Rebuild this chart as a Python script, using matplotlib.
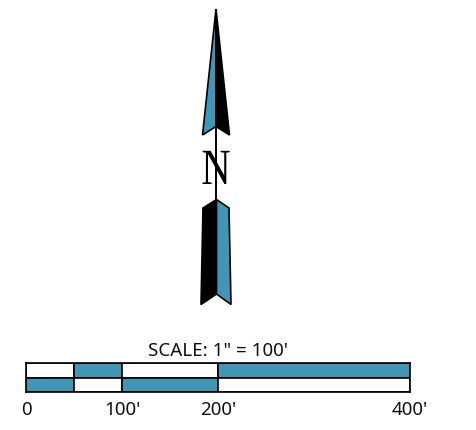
import matplotlib
matplotlib.use('Agg')
import matplotlib.pyplot as plt
from matplotlib.patches import Polygon
from matplotlib.patheffects import AbstractPathEffect
from matplotlib.transforms import Affine2D

W, H = 477, 431
BLUE = '#4096b4'

# north arrow outline, in picture pixels
upper_left = [(216, 10), (202.5, 136), (216, 127.5)]
upper_right = [(216, 10), (229.5, 136), (216, 127.5)]
lower_left = [(216.5, 200.5), (203, 209), (201, 305.5), (216.5, 295)]
lower_right = [(216.5, 200.5), (229, 209), (231, 305.5), (216.5, 295)]
shaft_x = [216, 216]
shaft_y = [127, 200]

# scale bar, in feet
seg_left = [0, 50, 100, 200]
seg_width = [50, 50, 100, 200]
top_colors = ['white', BLUE, 'white', BLUE]
bottom_colors = [BLUE, 'white', BLUE, 'white']
tick_vals = [0, 100, 200, 400]
tick_labels = ['0', "100'", "200'", "400'"]


class SqueezeX(AbstractPathEffect):
    # the N in the reference is narrower than any installed serif
    def __init__(self, cx, factor):
        super().__init__()
        self.cx = cx
        self.factor = factor

    def draw_path(self, renderer, gc, tpath, affine, rgbFace=None):
        squeeze = Affine2D().translate(-self.cx, 0).scale(self.factor, 1).translate(self.cx, 0)
        renderer.draw_path(gc, tpath, affine + squeeze, rgbFace)


plt.rcParams['font.family'] = ['Noto Sans', 'DejaVu Sans']

fig = plt.figure(figsize=(W / 100, H / 100), dpi=100)
ax = fig.add_axes([0, 0, 1, 1])
ax.set_xlim(0, W)
ax.set_ylim(H, 0)
ax.axis('off')

ax.plot(shaft_x, shaft_y, color='black', lw=1.4, zorder=1)
ax.add_patch(Polygon(upper_left, closed=True, fc=BLUE, ec='black', lw=1.2, zorder=2))
ax.add_patch(Polygon(upper_right, closed=True, fc='black', ec='black', lw=1.2, zorder=2))
ax.add_patch(Polygon(lower_left, closed=True, fc='black', ec='black', lw=1.2, zorder=2))
ax.add_patch(Polygon(lower_right, closed=True, fc=BLUE, ec='black', lw=1.2, zorder=2))
n_label = ax.text(216, 185, 'N', family='Liberation Serif', fontsize=36.5, ha='center', va='baseline', zorder=3)
n_label.set_path_effects([SqueezeX(216, 0.8)])
ax.text(218.5, 356.5, 'SCALE: 1" = 100\'', fontsize=13.5, ha='center', va='baseline', color='#111111')

# pixel box of the bar: x 26-410, y 364-393
bar_ax = fig.add_axes([26 / W, 1 - 393 / H, 384 / W, 29 / H])
bar_ax.barh(1, seg_width, left=seg_left, height=1, color=top_colors, edgecolor='black', lw=1.2)
bar_ax.barh(0, seg_width, left=seg_left, height=1, color=bottom_colors, edgecolor='black', lw=1.2)
bar_ax.set_xlim(0, 400)
bar_ax.set_ylim(-0.5, 1.5)
bar_ax.set_yticks([])
bar_ax.set_xticks(tick_vals, tick_labels, fontsize=13.5, color='#111111')
bar_ax.tick_params(axis='x', length=0, pad=5.5)
for s in bar_ax.spines.values():
    s.set_linewidth(1.2)

fig.savefig('out.png', dpi=100)
plt.close(fig)
